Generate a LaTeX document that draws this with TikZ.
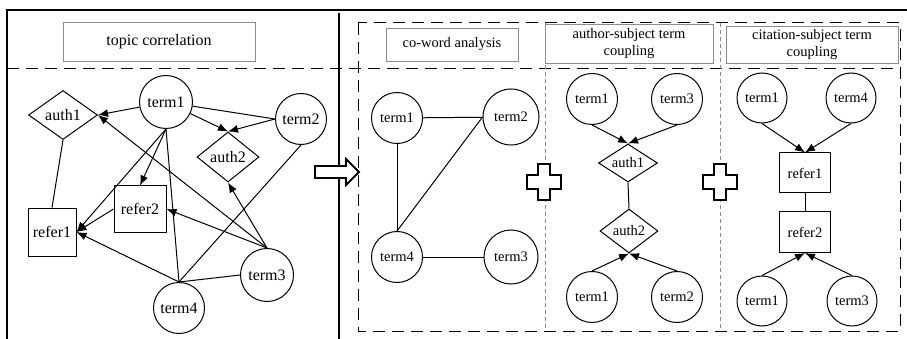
\documentclass[tikz,border=0pt]{standalone}
\usepackage{fontspec}
\setmainfont{Liberation Serif}
\usetikzlibrary{shapes.geometric,arrows.meta}
\tikzset{
	term/.style={draw,circle,minimum size=51pt,inner sep=0pt},
	auth/.style={draw,diamond,aspect=1.4,inner sep=0pt},
	refer/.style={draw,rectangle,inner sep=0pt},
	arr/.style={-{Latex[length=10pt,width=8pt]}},
	ttl/.style={draw=black!45,fill=white,line width=0.8pt,inner sep=0pt,align=center},
	frame/.style={line width=1.8pt},
	sect/.style={dash pattern=on 12pt off 7pt,line width=1pt},
	sepline/.style={draw=black!45,dash pattern=on 4pt off 3pt,line width=0.6pt},
	hollow/.style={draw,fill=white,line width=1.9pt,line join=miter}
}

\begin{document}
\begin{tikzpicture}[x=1pt,y=-1pt,line width=1pt,font=\fontsize{14.5}{16.5}\selectfont]
\useasboundingbox (0,0) rectangle (907,339);

%Frame and panels
\draw[frame] (7,339) -- (7,10) -- (907,10);
\draw[line width=1.2pt] (339,13) -- (339,339);
\draw[sect] (7,69) -- (900,69);
\draw[sect] (358,23) rectangle (900,331);
\draw[sepline] (545,23) -- (545,331);
\draw[sepline] (720,23) -- (720,331);

%Titles
\node[ttl,minimum width=192pt,minimum height=39pt,font=\fontsize{16}{18}\selectfont] (ttlTopic) at (159,41.5) {topic correlation};
\node[ttl,minimum width=132pt,minimum height=33pt] (ttlWord) at (452,44.5) {co-word analysis};
\node[ttl,minimum width=168pt,minimum height=39pt] (ttlAuth) at (629,43.5) {author-subject term\\coupling};
\node[ttl,minimum width=172pt,minimum height=37pt] (ttlCite) at (812,44.5) {citation-subject term\\coupling};

%Topic correlation graph
\begin{scope}[font=\fontsize{16}{18}\selectfont]
\node[term,minimum size=53pt] (term1) at (166,102) {term1};
\node[term] (term2) at (301,119) {term2};
\node[term,minimum size=53pt] (term3) at (267,275) {term3};
\node[term] (term4) at (179,308) {term4};
\node[auth,minimum width=69pt,minimum height=49pt] (auth1) at (63,115) {auth1};
\node[auth,minimum width=62pt,minimum height=50pt] (auth2) at (228,157) {auth2};
\node[refer,minimum width=48pt,minimum height=48pt] (refer1) at (52,232) {refer1};
\node[refer,minimum width=52pt,minimum height=46pt] (refer2) at (140,209) {refer2};
\end{scope}

\draw[arr] (term1) -- (auth1.east);
\draw[arr] (term1) -- (auth2.north);
\draw (term1) -- (term2.west);
\draw[arr] (term2.west) -- (auth2.north);
\draw[arr] (term1.south) -- (refer2.north);
\draw[arr] (term1.south) -- (refer1.east);
\draw (term1.south) -- (term4.north);
\draw (term2.south) -- (term4.north);
\draw[arr] (term3.north) -- (auth1.east);
\draw[arr] (term3.north) -- (refer2.east);
\draw[arr] (term3.north) -- (auth2.south);
\draw[arr] (term4.north) -- (refer1.east);
\draw[arr] (refer2.west) -- (refer1.east);
\draw (term4.north) -- (term3.west);
\draw (auth1.south) -- (refer1.north);

%Hollow arrow
\draw[hollow] (315,166) -- (346,166) -- (346,159) -- (359,172) -- (346,185) -- (346,178) -- (315,178) -- cycle;

%Co-word analysis
\node[term] (cw1) at (397,118) {term1};
\node[term,minimum size=56pt] (cw2) at (511,117) {term2};
\node[term] (cw4) at (397,257) {term4};
\node[term,minimum size=54pt] (cw3) at (511,257) {term3};
\draw (cw1) -- (cw2);
\draw (cw1) -- (cw4);
\draw (cw4.north) -- (cw2.west);
\draw (cw4) -- (cw3);

%Author-subject term coupling
\node[term] (au1) at (592,99) {term1};
\node[term] (au3) at (677,99) {term3};
\node[auth,minimum width=59pt,minimum height=38pt] (auA1) at (628,163) {auth1};
\node[auth,minimum width=58pt,minimum height=44pt] (auA2) at (629,231) {auth2};
\node[term] (au1b) at (592,297) {term1};
\node[term] (au2) at (677,297) {term2};
\draw[arr] (au1.south) -- (auA1.north);
\draw[arr] (au3.south) -- (auA1.north);
\draw (auA1.south) -- (auA2.north);
\draw[arr] (au1b.north) -- (auA2.south);
\draw[arr] (au2.north) -- (auA2.south);

%Citation-subject term coupling
\node[term,minimum size=50pt] (ci1) at (762,98) {term1};
\node[term,minimum size=50pt] (ci4) at (851,98) {term4};
\node[refer,minimum width=51pt,minimum height=40pt] (ciR1) at (805,173) {refer1};
\node[refer,minimum width=51pt,minimum height=41pt] (ciR2) at (805,232) {refer2};
\node[term,minimum size=50pt] (ci1b) at (762,301) {term1};
\node[term,minimum size=50pt] (ci3) at (852,301) {term3};
\draw[arr] (ci1.south) -- (ciR1.north);
\draw[arr] (ci4.south) -- (ciR1.north);
\draw (ciR1) -- (ciR2);
\draw[arr] (ci1b.north) -- (ciR2.south);
\draw[arr] (ci3.north) -- (ciR2.south);

%Plus signs
\foreach \px in {544,720}
	\draw[hollow] (\px,182) ++(-17,-7) -- ++(11,0) -- ++(0,-11) -- ++(12,0) -- ++(0,11) -- ++(11,0)
		-- ++(0,14) -- ++(-11,0) -- ++(0,11) -- ++(-12,0) -- ++(0,-11) -- ++(-11,0) -- cycle;

\end{tikzpicture}
\end{document}
